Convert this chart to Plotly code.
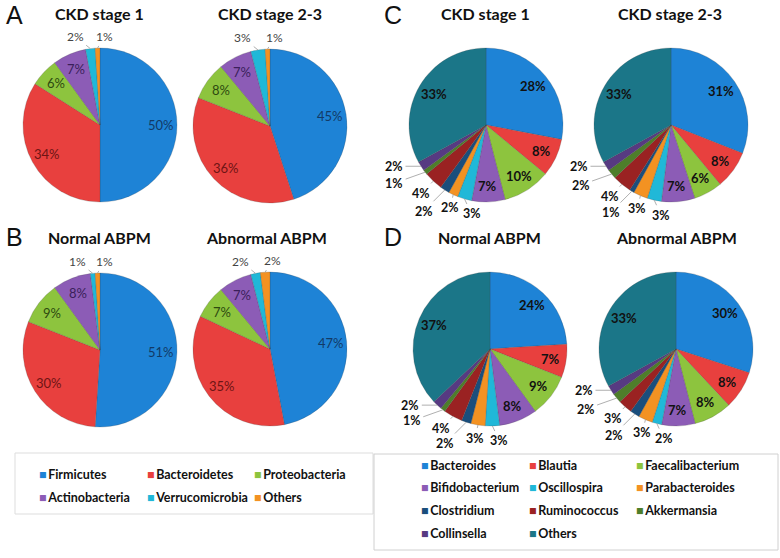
import math
import plotly.graph_objects as go

W, H = 780, 558

# ---------------- data ----------------
phyla = ["Firmicutes", "Bacteroidetes", "Proteobacteria", "Actinobacteria", "Verrucomicrobia", "Others"]
phyla_colors = ["#1E83D6", "#E8403E", "#8DC43E", "#8C5CB6", "#20B8D8", "#F39222"]
phyla_text_colors = ["#123A66", "#6E1414", "#2E4A10", "#3A1F5A", "#555555", "#555555"]

ckd1_phyla = [50, 34, 6, 7, 2, 1]
ckd23_phyla = [45, 36, 8, 7, 3, 1]
normal_phyla = [51, 30, 9, 8, 1, 1]
abnormal_phyla = [47, 35, 7, 7, 2, 2]

genera = ["Bacteroides", "Blautia", "Faecalibacterium", "Bifidobacterium", "Oscillospira",
          "Parabacteroides", "Clostridium", "Ruminococcus", "Akkermansia", "Collinsella", "Others"]
genera_colors = ["#1E83D6", "#E8403E", "#8DC43E", "#8C5CB6", "#20B8D8", "#F39222",
                 "#1A4E7C", "#9A2222", "#4E7E2A", "#573A82", "#1B7688"]
genera_text_colors = ["#111111"] * 11

ckd1_genera = [28, 8, 10, 7, 3, 2, 2, 4, 1, 2, 33]
ckd23_genera = [31, 8, 6, 7, 3, 3, 1, 4, 2, 2, 33]
normal_genera = [24, 7, 9, 8, 3, 3, 2, 4, 1, 2, 37]
abnormal_genera = [30, 8, 8, 7, 2, 3, 2, 3, 2, 2, 33]

titles = ["CKD stage 1", "CKD stage 2-3", "Normal ABPM", "Abnormal ABPM"]
panel_letters = ["A", "B", "C", "D"]

# ---------------- layout / style ----------------
R = 77
LABEL_R = 0.79          # inside labels sit at this fraction of the radius
FONT = "Lato, 'Open Sans', sans-serif"

# label offsets (pixels) for slices whose labels sit outside, keyed by slice index
phyla_outside_offsets = {4: (-15, -12), 5: (7, -12)}
genera_outside_offsets = {4: (7, 15), 5: (-3, 13), 6: (-21, 21), 7: (-12, 12), 8: (-31, 11), 9: (-27, 0)}


def dom(cx, cy):
    return dict(x=[(cx - R) / W, (cx + R) / W], y=[1 - (cy + R) / H, 1 - (cy - R) / H])


fig = go.Figure()
annotations = []


def add_pie(labels, vals, colors, text_colors, cx, cy, outside, inside_font, outside_font):
    fig.add_trace(go.Pie(
        labels=labels, values=vals, textinfo="none",
        sort=False, direction="clockwise", rotation=0,
        marker=dict(colors=colors, line=dict(color="rgba(60,60,60,0.35)", width=0.6)),
        domain=dom(cx, cy), showlegend=False, hoverinfo="label+percent",
    ))
    # data labels, placed at each slice's mid-angle
    total = float(sum(vals))
    cum = 0.0
    for i, v in enumerate(vals):
        mid = (cum + v / 2.0) / total
        cum += v
        ang = 2 * math.pi * mid
        s, c = math.sin(ang), math.cos(ang)
        if i in outside:
            rx, ry = cx + R * s, cy - R * c
            dx, dy = outside[i]
            annotations.append(dict(
                x=rx / W, y=1 - ry / H, xref="paper", yref="paper",
                ax=dx, ay=dy, axref="pixel", ayref="pixel",
                text=f"{v}%", showarrow=True, arrowhead=0, arrowwidth=0.8,
                arrowcolor="#9A9A9A", standoff=0, startstandoff=1,
                font=outside_font))
        else:
            lx, ly = cx + LABEL_R * R * s, cy - LABEL_R * R * c
            annotations.append(dict(
                x=lx / W, y=1 - ly / H, xref="paper", yref="paper",
                text=f"{v}%", showarrow=False, xanchor="center", yanchor="middle",
                font=dict(inside_font, color=text_colors[i])))


phyla_sets = [(ckd1_phyla, 100, 125), (ckd23_phyla, 270, 126),
              (normal_phyla, 100, 350), (abnormal_phyla, 270, 349)]
for vals, cx, cy in phyla_sets:
    add_pie(phyla, vals, phyla_colors, phyla_text_colors, cx, cy, phyla_outside_offsets,
            dict(family=FONT, size=13),
            dict(family=FONT, size=12, color="#444444"))

genera_sets = [(ckd1_genera, 486, 125), (ckd23_genera, 671, 125),
               (normal_genera, 490, 349), (abnormal_genera, 676, 349)]
for vals, cx, cy in genera_sets:
    add_pie(genera, vals, genera_colors, genera_text_colors, cx, cy, genera_outside_offsets,
            dict(family=FONT, size=13, weight="bold"),
            dict(family=FONT, size=12.5, color="#111111", weight="bold"))

# titles
title_pos = [(100, 13), (270, 13), (100, 237), (266, 237),
             (485, 13), (670, 13), (489, 237), (676, 237)]
for i, (x, y) in enumerate(title_pos):
    annotations.append(dict(x=x / W, y=1 - y / H, xref="paper", yref="paper",
                            text=f"<b>{titles[i % 4]}</b>", showarrow=False,
                            font=dict(family=FONT, size=16, color="#111111"),
                            xanchor="center", yanchor="middle"))
# panel letters
letter_pos = [(4, 15), (4, 237), (382, 15), (382, 237)]
for letter, (x, y) in zip(panel_letters, letter_pos):
    annotations.append(dict(x=x / W, y=1 - y / H, xref="paper", yref="paper",
                            text=letter, showarrow=False,
                            font=dict(family="'Liberation Sans', Arial, sans-serif", size=25, color="#111111"),
                            xanchor="left", yanchor="middle"))


def legend_items(names, colors, x0, y0, dx, dy, ncol):
    for k, (n, c) in enumerate(zip(names, colors)):
        col, row = k % ncol, k // ncol
        annotations.append(dict(
            x=(x0 + col * dx) / W, y=1 - (y0 + row * dy) / H, xref="paper", yref="paper",
            text=f'<span style="color:{c}">■</span>\u2009<b>{n}</b>', showarrow=False,
            font=dict(family=FONT, size=12.5, color="#111111"),
            xanchor="left", yanchor="middle"))


legend_items(phyla, phyla_colors, 37, 474, 107.5, 23, 3)
legend_items(genera, genera_colors, 419, 465, 107.5, 22.7, 3)

shapes = [
    dict(type="rect", xref="paper", yref="paper", x0=15 / W, x1=373 / W,
         y0=1 - 514 / H, y1=1 - 453 / H, line=dict(color="#DDDDDD", width=1)),
    dict(type="rect", xref="paper", yref="paper", x0=374 / W, x1=778 / W,
         y0=1 - 550 / H, y1=1 - 454 / H, line=dict(color="#D0D0D0", width=1)),
]

fig.update_layout(
    width=W, height=H, margin=dict(l=0, r=0, t=0, b=0),
    paper_bgcolor="white", plot_bgcolor="white",
    annotations=annotations, shapes=shapes, showlegend=False,
    font=dict(family=FONT),
)

fig.write_html("out.html", config={"displayModeBar": False},
               post_script="document.body.style.margin='0px';")
